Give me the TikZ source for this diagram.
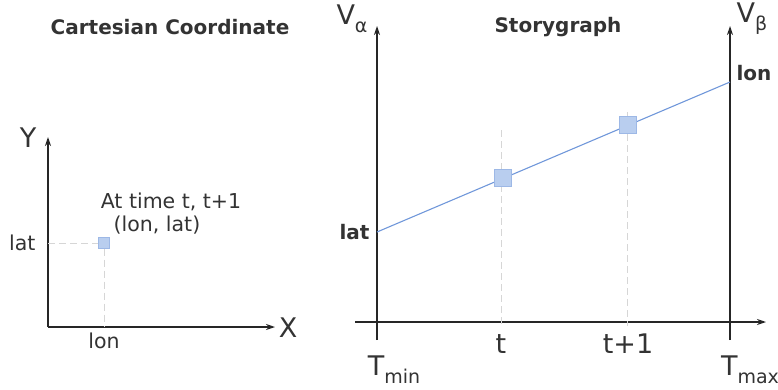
\documentclass[tikz,border=0pt]{standalone}
\usepackage{fontspec}
\setmainfont{DejaVu Sans}
\usetikzlibrary{arrows.meta}

\definecolor{ink}{HTML}{333333}
\definecolor{trackblue}{HTML}{7097DA}
\definecolor{markfill}{HTML}{B9CEEF}
\definecolor{markline}{HTML}{9DB8E6}
\definecolor{guidegray}{HTML}{D6D6D6}

% subscript at a larger size than \textsubscript
\newcommand{\lowidx}[1]{\raisebox{-0.3em}{\fontsize{19}{19}\selectfont #1}}

\begin{document}
\begin{tikzpicture}[x=1pt, y=1pt,
    axis/.style={draw=black!85, line width=1.3pt, -{Stealth[length=9pt, width=6pt]}},
    guide/.style={draw=guidegray, line width=1pt, dash pattern=on 7pt off 4pt},
    track/.style={draw=trackblue, line width=1.1pt},
    smallmark/.style={draw=markline, fill=markfill, minimum size=11pt, inner sep=0pt},
    bigmark/.style={draw=markline, fill=markfill, line width=0.8pt, minimum size=17pt, inner sep=0pt},
    lbl/.style={text=ink, font=\fontsize{20.5}{22}\selectfont},
    boldlbl/.style={text=ink, font=\fontsize{20}{22}\selectfont\bfseries},
    big/.style={text=ink, font=\fontsize{27}{29}\selectfont}]

        \useasboundingbox (0,0) rectangle (778,389);

        % Titles
        \node[boldlbl] (cartTitle) at (170,362) {Cartesian Coordinate};
        \node[boldlbl] (storyTitle) at (558,362) {Storygraph};

        % Cartesian axes
        \coordinate (cO) at (48,62);
        \coordinate (cYtop) at (48,252);
        \coordinate (cXend) at (275,62);
        \draw[axis] (cO) -- (cYtop);
        \draw[axis] (cO) -- (cXend);
        \node[big] (cY) at (28,251) {Y};
        \node[big] (cX) at (288,61) {X};

        % Position at time t, t+1
        \coordinate (cLat) at (48,146);
        \coordinate (cLon) at (104,62);
        \node[smallmark] (cPos) at (104,146) {};
        \draw[guide] (cLat) -- (cPos);
        \draw[guide] (cPos) -- (cLon);
        \node[lbl, anchor=east] (cLatLbl) at (39,146) {lat};
        \node[lbl] (cLonLbl) at (104,48) {lon};
        \node[lbl] (cWhen) at (171,187) {At time t, t+1};
        \node[lbl] (cPair) at (157,164) {(lon, lat)};

        % Storygraph axes
        \coordinate (sAlphaLow) at (377,49);
        \coordinate (sAlphaTop) at (377,363);
        \coordinate (sBetaLow) at (730,49);
        \coordinate (sBetaTop) at (730,363);
        \coordinate (sTimeStart) at (355,67);
        \coordinate (sTimeEnd) at (766,67);
        \draw[axis] (sAlphaLow) -- (sAlphaTop);
        \draw[axis] (sBetaLow) -- (sBetaTop);
        \draw[axis] (sTimeStart) -- (sTimeEnd);
        \node[big] (sVa) at (352,370) {V\lowidx{α}};
        \node[big] (sVb) at (752,370) {V\lowidx{β}};

        % Time ticks
        \node[big] (sTmin) at (394,19) {T\lowidx{min}};
        \node[big] (sTmax) at (750,19) {T\lowidx{max}};
        \node[big] (sT) at (501,45) {t};
        \node[big] (sT1) at (628,45) {t+1};

        % Line of the point
        \coordinate (sLat) at (377,157);
        \coordinate (sLon) at (730,307);
        \coordinate (sGuideA) at (501,259);
        \coordinate (sGuideALow) at (501,63);
        \coordinate (sGuideB) at (627,277);
        \coordinate (sGuideBLow) at (627,63);
        \draw[guide] (sGuideA) -- (sGuideALow);
        \draw[guide] (sGuideB) -- (sGuideBLow);
        \draw[track] (sLat) -- (sLon);
        \node[bigmark] (sAtT) at (503,211) {};
        \node[bigmark] (sAtT1) at (628,264) {};
        \node[boldlbl, anchor=east] (sLatLbl) at (373,157) {lat};
        \node[boldlbl, anchor=west] (sLonLbl) at (733,316) {lon};

    \end{tikzpicture}
\end{document}
